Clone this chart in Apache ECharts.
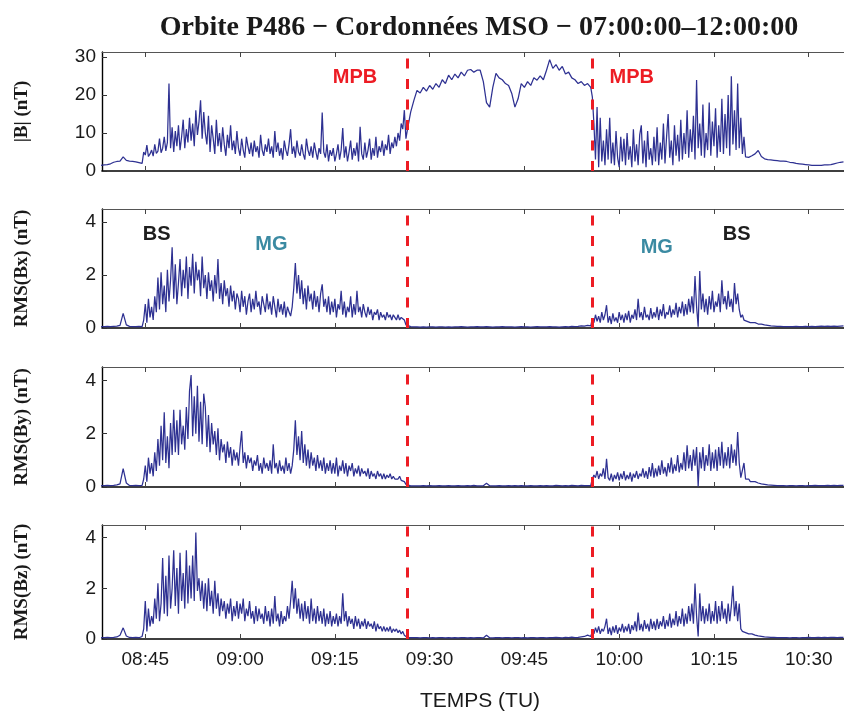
<!DOCTYPE html>
<html><head><meta charset="utf-8">
<script src="https://cdn.jsdelivr.net/npm/echarts@6/dist/echarts.min.js"></script>
<style>html,body{margin:0;padding:0;background:#fff}#c{width:844px;height:713px}</style>
</head><body><div id="c"></div>
<script>
// Time segments (minutes since midnight): start and sampling step of each segment
// quiet (08:38), inner sheath (08:44:45, 15 s), magnetosphere (09:27, 30 s), outer sheath (09:55:45, 15 s), quiet (10:21:30)
const segmentStart = [518, 524.75, 567, 595.75, 621.5];
const segmentStep = [0.5, 0.25, 0.5, 0.25, 0.5];
const tickMinutes = [525, 540, 555, 570, 585, 600, 615, 630];
const mpbMinutes = [566.5, 595.67];
const titleText = 'Orbite P486 \u2212 Cordonnées MSO \u2212 07:00:00\u201312:00:00';
const xAxisTitle = 'TEMPS (TU)';
const panelNames = ['|B| (nT)', 'RMS(Bx) (nT)', 'RMS(By) (nT)', 'RMS(Bz) (nT)'];
const panelMax = [31.3, 4.49, 4.5, 4.5];
const panelInterval = [10, 2, 2, 2];

// ---------- |B| ----------
const bQuietA = [1.5,1.6,1.7,1.9,2.3,2.5,2.6,3.7,2.8,2.6,2.5,2.4,2.2,2.0];
const bSheathIn = [
5.0,4.2,6.8,3.8,4.5,5.5,3.9,7.0,4.6,5.2,8.5,4.8,6.0,9.0,5.3,7.5,23.0,6.0,11.5,5.0,
10.5,6.5,12.0,5.5,9.0,13.5,6.0,11.0,7.5,14.0,8.0,12.5,6.5,16.0,9.5,13.0,18.6,8.5,15.5,10.0,
7.0,14.5,5.0,12.0,8.5,4.5,13.5,6.5,10.0,5.0,11.5,7.0,4.0,9.5,6.0,12.0,5.5,8.0,4.5,10.5,
6.0,4.0,8.5,5.5,3.5,9.0,6.5,4.5,7.5,3.8,8.0,5.0,6.5,3.5,9.5,5.5,4.0,7.0,5.0,8.5,
4.5,6.5,3.5,10.5,5.0,7.5,4.0,6.0,3.0,8.0,5.5,4.0,7.0,11.0,4.5,6.5,3.5,8.0,5.0,4.0,
7.0,4.5,3.0,8.5,5.5,4.0,6.5,3.5,7.5,5.0,3.0,6.0,4.5,15.4,5.0,3.5,7.0,2.5,5.5,4.0,
6.0,2.5,4.5,7.0,3.0,5.5,11.3,3.5,6.5,2.5,5.0,8.0,3.0,6.0,4.0,7.5,2.5,11.6,4.5,3.0,
7.5,3.5,5.5,8.5,3.0,6.0,4.0,9.0,3.5,6.5,5.0,8.0,4.0,7.0,5.5,9.5,4.5,7.5,6.0,9.0,
6.5,10.0,8.0,12.5,11.0,16.0,8.5,11.0
];
const bMsphere = [
15.5,18.5,
21.2,20.5,22.0,21.0,22.5,21.5,23.0,22.0,24.0,23.0,
25.2,24.0,25.5,24.5,26.0,25.0,26.5,26.7,26.0,26.5,
26.5,23.5,18.0,16.8,22.0,25.7,24.5,24.0,23.0,22.5,
20.4,16.8,19.0,23.0,22.0,23.5,22.5,24.5,23.9,25.0,
24.0,26.5,29.3,27.0,28.0,26.5,27.5,25.5,26.0,24.5,
24.0,23.0,23.5,22.5,23.0,22.0
];
const bSheathOut = [
19.5,12.5,3.0,16.8,1.0,14.0,2.5,8.0,1.5,11.0,3.0,14.0,2.0,7.5,1.5,10.5,3.5,1.0,9.0,2.5,
8.5,1.5,10.0,3.0,6.5,1.0,11.0,2.5,7.0,1.5,9.5,12.0,2.0,8.0,1.0,10.5,3.0,6.0,1.5,9.0,
2.5,11.5,1.5,7.5,3.0,12.5,2.0,9.0,15.0,3.5,8.0,1.5,12.0,4.0,9.5,2.5,13.5,3.0,10.0,4.5,
16.0,3.5,11.0,5.0,14.5,3.0,23.9,6.0,12.5,4.0,17.5,3.5,10.0,5.5,18.0,4.0,13.0,6.5,16.5,3.5,
12.0,5.0,19.0,4.5,15.0,6.0,20.0,4.0,24.9,7.0,16.0,5.5,23.0,6.0,14.0,4.5,9.0,3.7,3.4,3.6,
3.5,4.0
];
const bQuietB = [4.5,5.4,3.8,3.2,3.0,2.9,2.8,2.7,2.6,2.6,2.5,2.3,2.2,2.0,1.9,1.8,1.7,1.6,1.5,1.5,1.5,1.5,1.6,1.6,1.7,1.9,2.1,2.3,2.4];

// ---------- RMS(Bx) ----------
const bxQuietA = [0.05,0.05,0.06,0.05,0.06,0.07,0.1,0.55,0.12,0.06,0.05,0.05,0.06,0.05];
const bxSheathIn = [
0.3,0.9,0.2,1.1,0.4,0.8,0.3,1.2,0.6,1.9,0.7,2.1,0.9,1.6,0.6,2.2,1.0,1.8,3.05,1.1,
2.4,0.9,1.7,2.6,1.2,2.2,1.5,2.7,1.1,2.3,1.6,2.8,1.3,2.5,1.8,2.2,1.2,2.7,1.5,2.0,
1.1,2.1,1.4,1.8,1.0,2.0,1.3,2.6,1.1,1.7,0.9,1.8,1.2,1.5,0.8,1.6,1.0,1.4,0.7,1.3,
1.1,0.6,1.4,0.8,1.2,0.5,1.0,1.3,0.6,1.1,0.7,1.4,0.8,1.0,0.5,1.2,0.9,0.6,1.3,0.7,
1.0,0.5,1.2,0.8,0.4,1.1,0.6,0.9,0.5,1.0,0.4,0.8,0.6,0.45,0.8,1.5,2.45,1.3,2.0,1.1,
1.8,0.9,1.5,0.7,1.6,1.0,1.3,0.7,1.4,0.8,1.2,0.6,1.3,1.65,0.8,1.1,0.6,1.2,0.5,1.0,
0.6,1.1,0.4,0.9,0.7,1.4,0.5,1.0,0.4,0.8,0.6,1.2,0.4,0.9,0.5,1.4,0.6,0.8,0.4,0.9,
0.6,0.4,0.8,0.5,0.7,0.3,0.6,0.5,0.7,0.3,0.6,0.4,0.5,0.3,0.6,0.4,0.5,0.3,0.5,0.4,
0.3,0.5,0.3,0.4,0.35,0.3,0.12,0.06
];
const bxMsphere = [
0.05,0.04,
0.04,0.03,0.04,0.03,0.04,0.04,0.03,0.04,0.04,0.03,
0.04,0.03,0.04,0.04,0.05,0.04,0.03,0.04,0.04,0.05,
0.04,0.04,0.05,0.04,0.03,0.04,0.04,0.05,0.04,0.04,
0.04,0.03,0.04,0.05,0.04,0.04,0.03,0.04,0.05,0.04,
0.04,0.04,0.05,0.04,0.04,0.03,0.04,0.05,0.04,0.06,
0.05,0.06,0.08,0.07,0.1,0.08
];
const bxSheathOut = [
0.35,0.2,0.5,0.25,0.45,0.2,0.6,0.3,0.5,0.86,0.2,0.45,0.15,0.55,0.25,0.4,0.2,0.6,0.3,0.5,
0.2,0.55,0.3,0.65,0.2,0.5,0.35,0.7,0.3,1.1,0.4,0.6,0.3,0.8,0.4,0.5,0.3,0.75,0.35,0.6,
0.4,0.8,0.3,0.7,0.45,0.9,0.35,0.6,0.5,0.85,0.4,0.7,0.5,0.95,0.4,0.8,0.55,1.0,0.45,0.9,
0.5,1.1,0.6,1.2,0.55,1.96,0.8,0.05,2.15,0.7,1.3,0.6,1.1,0.5,1.2,0.7,1.4,0.6,1.0,0.8,
1.3,0.6,1.8,0.9,1.2,0.7,1.4,0.8,1.1,0.6,1.7,0.9,1.3,0.7,0.4,0.5,0.3,0.35,0.25,0.3,
0.2,0.25
];
const bxQuietB = [0.2,0.15,0.15,0.12,0.1,0.08,0.07,0.06,0.06,0.05,0.05,0.05,0.05,0.06,0.05,0.05,0.06,0.05,0.06,0.05,0.06,0.07,0.06,0.07,0.06,0.07,0.06,0.07,0.08];

// ---------- RMS(By) ----------
const byQuietA = [0.05,0.05,0.06,0.05,0.06,0.08,0.12,0.69,0.15,0.06,0.05,0.06,0.05,0.06];
const bySheathIn = [
0.3,0.8,0.2,1.1,0.5,0.9,0.4,1.3,0.6,1.8,0.8,2.3,1.0,2.8,0.9,1.9,0.7,2.4,1.2,2.9,
1.3,2.5,1.2,2.9,1.6,2.3,1.4,3.0,1.8,3.6,4.2,1.9,3.4,2.0,3.8,1.7,3.2,1.6,3.5,3.0,
1.5,2.7,1.3,2.4,1.6,2.1,1.2,2.2,1.0,1.8,1.3,1.6,0.9,1.7,1.1,1.5,0.8,1.4,1.0,1.3,
0.8,1.5,2.1,0.9,1.3,0.7,1.2,0.9,1.1,0.6,1.0,0.8,1.2,0.6,0.9,0.5,1.1,0.7,0.9,0.6,
1.0,0.5,1.6,0.7,0.9,0.5,1.0,0.6,0.8,0.5,1.1,0.6,0.9,0.5,0.8,1.4,2.5,1.2,1.9,1.0,
2.1,0.9,1.6,0.8,1.4,0.7,1.3,0.8,1.1,0.6,1.2,0.7,1.0,0.6,1.1,0.5,0.9,0.6,1.0,0.5,
0.9,0.5,1.1,0.4,0.8,0.6,1.0,0.5,0.9,0.4,0.8,0.6,0.9,0.4,0.7,0.5,0.8,0.4,0.7,0.5,
0.6,0.4,0.7,0.3,0.6,0.4,0.5,0.3,0.6,0.4,0.5,0.3,0.5,0.3,0.45,0.35,0.5,0.3,0.4,0.3,
0.35,0.3,0.4,0.25,0.3,0.2,0.1,0.05
];
const byMsphere = [
0.04,0.04,
0.04,0.04,0.05,0.04,0.05,0.04,0.04,0.05,0.04,0.04,
0.05,0.04,0.04,0.05,0.04,0.04,0.05,0.04,0.06,0.04,
0.04,0.05,0.14,0.05,0.04,0.04,0.05,0.04,0.04,0.05,
0.04,0.05,0.04,0.05,0.04,0.04,0.05,0.04,0.04,0.05,
0.04,0.05,0.04,0.04,0.06,0.05,0.04,0.05,0.04,0.06,
0.05,0.04,0.06,0.05,0.05,0.06
];
const bySheathOut = [
0.3,0.45,0.35,0.6,0.3,0.5,0.4,0.7,0.3,1.06,0.35,0.25,0.5,0.2,0.45,0.3,0.55,0.25,0.5,0.3,
0.6,0.25,0.45,0.3,0.55,0.2,0.5,0.35,0.6,0.3,0.5,0.4,0.7,0.35,0.6,0.3,0.75,0.4,0.9,0.35,
0.7,0.4,0.8,0.45,1.0,0.5,0.75,0.4,0.9,0.55,1.1,0.5,0.85,0.6,1.2,0.55,0.9,0.65,1.3,0.6,
1.56,0.7,1.2,0.6,1.4,0.8,1.5,0.02,1.3,0.7,1.5,0.6,1.2,0.8,1.6,0.6,1.3,0.7,1.4,0.6,
1.5,0.8,1.7,0.7,1.3,0.8,1.5,0.7,1.6,0.9,1.4,0.8,2.06,0.9,0.35,0.3,0.9,0.3,0.25,0.3,
0.2,0.25
];
const byQuietB = [0.2,0.15,0.12,0.1,0.08,0.07,0.06,0.05,0.05,0.05,0.04,0.05,0.05,0.04,0.05,0.05,0.04,0.05,0.05,0.06,0.05,0.05,0.05,0.06,0.05,0.06,0.05,0.06,0.06];

// ---------- RMS(Bz) ----------
const bzQuietA = [0.05,0.05,0.06,0.05,0.06,0.08,0.15,0.44,0.12,0.06,0.05,0.06,0.05,0.1];
const bzSheathIn = [
0.4,1.5,0.3,1.2,0.5,0.9,0.6,1.6,0.8,2.2,0.7,1.4,3.2,1.0,2.5,0.9,3.3,1.2,2.0,3.5,
1.3,2.8,1.0,3.4,1.5,2.6,1.2,3.5,1.4,2.9,1.6,3.3,1.5,4.2,1.9,2.4,1.5,2.3,1.2,2.2,
1.1,2.4,1.3,1.9,1.0,2.3,1.2,1.8,0.9,1.6,1.1,1.5,0.8,1.4,1.0,1.6,0.7,1.3,0.9,1.5,
0.8,1.4,1.0,1.6,0.7,1.2,0.9,1.5,0.8,1.1,0.6,1.3,0.7,1.2,0.8,1.0,0.6,1.3,0.7,1.1,
0.5,1.2,0.6,1.7,0.7,1.0,0.5,1.1,0.6,0.9,0.7,1.3,0.8,1.5,2.3,1.2,2.0,1.0,1.6,0.8,
1.4,0.7,1.5,0.8,1.3,0.6,1.6,0.7,1.2,0.6,1.3,0.7,1.1,0.6,1.2,0.5,1.0,0.6,1.1,0.5,
0.9,0.6,1.0,0.5,0.9,0.6,1.8,0.7,1.1,0.5,0.9,0.6,0.8,0.4,0.9,0.5,0.8,0.4,0.7,0.5,
0.8,0.4,0.7,0.5,0.6,0.4,0.7,0.3,0.6,0.4,0.5,0.3,0.5,0.3,0.45,0.3,0.5,0.25,0.4,0.3,
0.4,0.25,0.35,0.2,0.3,0.15,0.08,0.05
];
const bzMsphere = [
0.05,0.05,
0.05,0.04,0.05,0.05,0.04,0.05,0.04,0.05,0.05,0.04,
0.05,0.04,0.05,0.04,0.05,0.05,0.04,0.05,0.04,0.05,
0.05,0.04,0.15,0.05,0.04,0.05,0.05,0.04,0.05,0.05,
0.04,0.05,0.05,0.04,0.05,0.04,0.05,0.05,0.04,0.05,
0.05,0.04,0.05,0.05,0.06,0.05,0.04,0.06,0.05,0.07,
0.05,0.06,0.08,0.1,0.15,0.1
];
const bzSheathOut = [
0.3,0.2,0.45,0.25,0.5,0.2,0.4,0.3,0.5,0.8,0.2,0.45,0.15,0.5,0.25,0.55,0.2,0.45,0.3,0.6,
0.25,0.5,0.3,0.6,0.2,0.55,0.35,0.7,0.3,1.04,0.35,0.6,0.3,0.75,0.4,0.6,0.3,0.8,0.4,0.7,
0.35,0.8,0.4,0.7,0.5,0.9,0.4,0.75,0.5,1.0,0.45,0.8,0.55,1.1,0.5,0.9,0.6,1.2,0.5,1.0,
0.6,1.3,0.7,1.4,0.6,2.19,0.9,0.1,1.8,0.7,1.3,0.6,1.2,0.7,1.4,0.6,1.1,0.7,1.5,0.6,
1.3,0.7,1.5,0.8,1.2,0.6,1.4,0.7,1.3,2.1,0.9,1.5,0.7,1.4,0.4,0.3,0.35,0.25,0.3,0.2,
0.25,0.2
];
const bzQuietB = [0.15,0.12,0.1,0.08,0.07,0.06,0.06,0.05,0.05,0.05,0.05,0.04,0.05,0.05,0.04,0.05,0.05,0.06,0.05,0.05,0.06,0.05,0.06,0.05,0.06,0.06,0.05,0.06,0.06];

const panelSegments = [
  [bQuietA, bSheathIn, bMsphere, bSheathOut, bQuietB],
  [bxQuietA, bxSheathIn, bxMsphere, bxSheathOut, bxQuietB],
  [byQuietA, bySheathIn, byMsphere, bySheathOut, byQuietB],
  [bzQuietA, bzSheathIn, bzMsphere, bzSheathOut, bzQuietB]
];

// annotations: [text, kind, timeMinute, value, panel]
const annotations = [
  ['MPB', 'mpb', 558.2, 24.5, 0],
  ['MPB', 'mpb', 602.0, 24.5, 0],
  ['BS', 'bs', 526.8, 3.53, 1],
  ['MG', 'mg', 544.95, 3.17, 1],
  ['MG', 'mg', 605.95, 3.04, 1],
  ['BS', 'bs', 618.6, 3.53, 1]
];

const xMin = 518.15, xMax = 635.58;
const gridTops = [52, 209, 367, 525];
const gridHeights = [119, 119, 120, 119];
const lineColor = '#2e3192';
const mpbColor = '#ed1c24';
const annColors = { mpb: '#ed1c24', bs: '#1e1e1e', mg: '#3b8aa2' };

function fmt(v) {
  const h = Math.floor(v / 60), m = Math.round(v - h * 60);
  return String(h).padStart(2, '0') + ':' + String(m).padStart(2, '0');
}

const grids = [], xAxes = [], yAxes = [], series = [];
for (let p = 0; p < 4; p++) {
  grids.push({ left: 102, right: 0, top: gridTops[p], height: gridHeights[p] });
  const last = p === 3;
  xAxes.push({
    type: 'value', gridIndex: p, min: xMin, max: xMax, position: 'bottom',
    axisLine: { show: true, onZero: false, lineStyle: { color: '#000', width: 1.6 } },
    axisTick: { show: true, inside: true, length: 5, customValues: tickMinutes, lineStyle: { color: '#444', width: 1 } },
    axisLabel: { show: last, customValues: tickMinutes, formatter: fmt, fontFamily: 'Liberation Sans', fontSize: 19, color: '#1a1a1a', margin: 11 },
    splitLine: { show: false },
    name: last ? xAxisTitle : '', nameLocation: 'middle', nameGap: 52,
    nameTextStyle: { fontFamily: 'Liberation Sans', fontSize: 21, color: '#1a1a1a', padding: [0, 0, 0, 14] }
  });
  xAxes.push({
    type: 'value', gridIndex: p, min: xMin, max: xMax, position: 'top',
    axisLine: { show: true, onZero: false, lineStyle: { color: '#555', width: 1 } },
    axisTick: { show: true, inside: true, length: 5, customValues: tickMinutes, lineStyle: { color: '#444', width: 1 } },
    axisLabel: { show: false }, splitLine: { show: false }
  });
  yAxes.push({
    type: 'value', gridIndex: p, min: 0, max: panelMax[p], interval: panelInterval[p],
    axisLine: { show: true, onZero: false, lineStyle: { color: '#000', width: 1.4 } },
    axisTick: { show: true, inside: true, length: 5, lineStyle: { color: '#333' } },
    axisLabel: { showMaxLabel: false, fontFamily: 'Liberation Sans', fontSize: 19, color: '#1a1a1a', margin: 6 },
    splitLine: { show: false },
    name: panelNames[p], nameLocation: 'middle', nameRotate: 90, nameGap: 70,
    nameTextStyle: { fontFamily: 'Liberation Serif', fontWeight: 'bold', fontSize: 19, color: '#1a1a1a' }
  });
  const data = [];
  panelSegments[p].forEach((vals, s) => {
    vals.forEach((v, i) => data.push([segmentStart[s] + i * segmentStep[s], v]));
  });
  const anns = annotations.filter(a => a[4] === p).map(a => ({
    coord: [a[2], a[3]], value: a[0],
    label: { color: annColors[a[1]] }
  }));
  series.push({
    type: 'line', xAxisIndex: 2 * p, yAxisIndex: p, data, showSymbol: false, symbol: 'none',
    sampling: null, animation: false, silent: true,
    lineStyle: { color: lineColor, width: 1.25 },
    markLine: {
      silent: true, symbol: 'none', animation: false,
      label: { show: false },
      lineStyle: { color: mpbColor, width: 3, type: [10, 10.5] },
      data: mpbMinutes.map(m => ({ xAxis: m }))
    },
    markPoint: {
      silent: true, animation: false, symbol: 'circle', symbolSize: 0,
      label: { show: true, position: 'inside', formatter: '{c}', fontFamily: 'Liberation Sans', fontWeight: 'bold', fontSize: 20 },
      data: anns
    }
  });
}

const chart = echarts.init(document.getElementById('c'), null, { renderer: 'canvas' });
chart.setOption({
  backgroundColor: '#fff',
  animation: false,
  title: {
    text: titleText, left: 474, top: 9, textAlign: 'center',
    textStyle: { fontFamily: 'Liberation Serif', fontWeight: 'bold', fontSize: 28, color: '#1a1a1a' }
  },
  grid: grids, xAxis: xAxes, yAxis: yAxes, series
});
</script></body></html>
